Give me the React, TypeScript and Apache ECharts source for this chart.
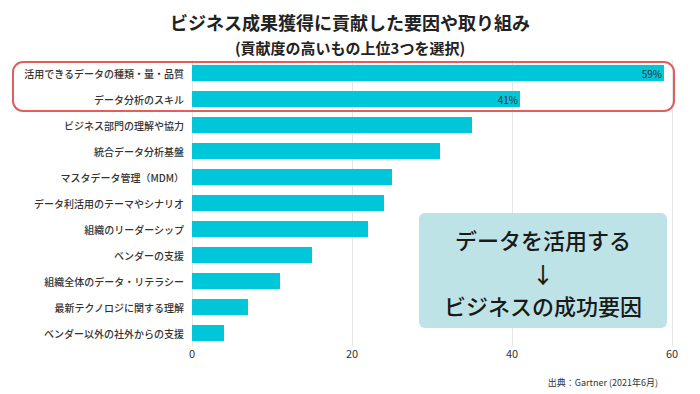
import React, { useEffect, useRef } from "react";
import * as echarts from "echarts";

const categories = [
  "活用できるデータの種類・量・品質",
  "データ分析のスキル",
  "ビジネス部門の理解や協力",
  "統合データ分析基盤",
  "マスタデータ管理（MDM）",
  "データ利活用のテーマやシナリオ",
  "組織のリーダーシップ",
  "ベンダーの支援",
  "組織全体のデータ・リテラシー",
  "最新テクノロジに関する理解",
  "ベンダー以外の社外からの支援",
];
const values = [59, 41, 35, 31, 25, 24, 22, 15, 11, 7, 4];
const labeledCount = 2;
const xTicks = [0, 20, 40, 60];

const FONT = "'Noto Sans CJK JP', 'Noto Sans', sans-serif";

export default function App() {
  const ref = useRef<HTMLDivElement>(null);
  useEffect(() => {
    if (!ref.current) return;
    const chart = echarts.init(ref.current, undefined, { renderer: "svg" });
    chart.setOption({
      animation: false,
      backgroundColor: "#ffffff",
      textStyle: { fontFamily: FONT },
      title: [
        {
          text: "ビジネス成果獲得に貢献した要因や取り組み",
          left: "center",
          top: 8,
          textStyle: { fontFamily: FONT, fontSize: 18, fontWeight: "bold", color: "#222" },
        },
        {
          text: "(貢献度の高いもの上位3つを選択)",
          left: "center",
          top: 35,
          textStyle: { fontFamily: FONT, fontSize: 15, fontWeight: "bold", color: "#222" },
        },
      ],
      grid: { left: 192, right: 28, top: 60, bottom: 48, containLabel: false },
      xAxis: {
        type: "value",
        min: xTicks[0],
        max: xTicks[xTicks.length - 1],
        interval: 20,
        axisLine: { show: false },
        axisTick: { show: false },
        splitLine: { show: true, lineStyle: { color: "#e6e6e6", width: 1 } },
        axisLabel: { color: "#333", fontSize: 11, fontFamily: FONT, margin: 1 },
      },
      yAxis: {
        type: "category",
        data: categories,
        inverse: true,
        axisLine: { show: false },
        axisTick: { show: false },
        axisLabel: { color: "#333", fontSize: 10, fontFamily: FONT, margin: 8, fontWeight: 500 },
      },
      series: [
        {
          type: "bar",
          barWidth: 16,
          itemStyle: { color: "#00c6da" },
          data: values.map((v, i) => ({
            value: v,
            label: {
              show: i < labeledCount,
              position: "insideRight",
              formatter: "{c}%",
              color: "#333",
              fontSize: 10,
              fontFamily: FONT,
              distance: 2,
            },
          })),
        },
      ],
      graphic: [
        {
          type: "rect",
          shape: { x: 13, y: 62, width: 661, height: 49, r: 10 },
          style: { fill: "none", stroke: "#e35d5d", lineWidth: 2 },
          z: 10,
        },
        {
          type: "rect",
          shape: { x: 419, y: 213, width: 248, height: 115, r: 6 },
          style: { fill: "#bee3e6" },
          z: 10,
        },
        {
          type: "text",
          x: 543,
          y: 239,
          style: {
            text: "データを活用する",
            fontSize: 22,
            fontWeight: 500,
            fontFamily: FONT,
            fill: "#1a1a1a",
            align: "center",
            verticalAlign: "middle",
          },
          z: 11,
        },
        {
          type: "text",
          x: 543,
          y: 273,
          style: {
            text: "↓",
            fontSize: 22,
            fontWeight: 500,
            fontFamily: FONT,
            fill: "#1a1a1a",
            align: "center",
            verticalAlign: "middle",
          },
          z: 11,
        },
        {
          type: "text",
          x: 543,
          y: 305,
          style: {
            text: "ビジネスの成功要因",
            fontSize: 22,
            fontWeight: 500,
            fontFamily: FONT,
            fill: "#1a1a1a",
            align: "center",
            verticalAlign: "middle",
          },
          z: 11,
        },
        {
          type: "text",
          x: 658,
          y: 382,
          style: {
            text: "出典：Gartner (2021年6月)",
            fontSize: 9,
            fontFamily: FONT,
            fill: "#333",
            align: "right",
            verticalAlign: "middle",
          },
          z: 11,
        },
      ],
    });
    return () => chart.dispose();
  }, []);
  return <div ref={ref} style={{ width: 700, height: 394, position: "absolute", left: 0, top: 0 }} />;
}
